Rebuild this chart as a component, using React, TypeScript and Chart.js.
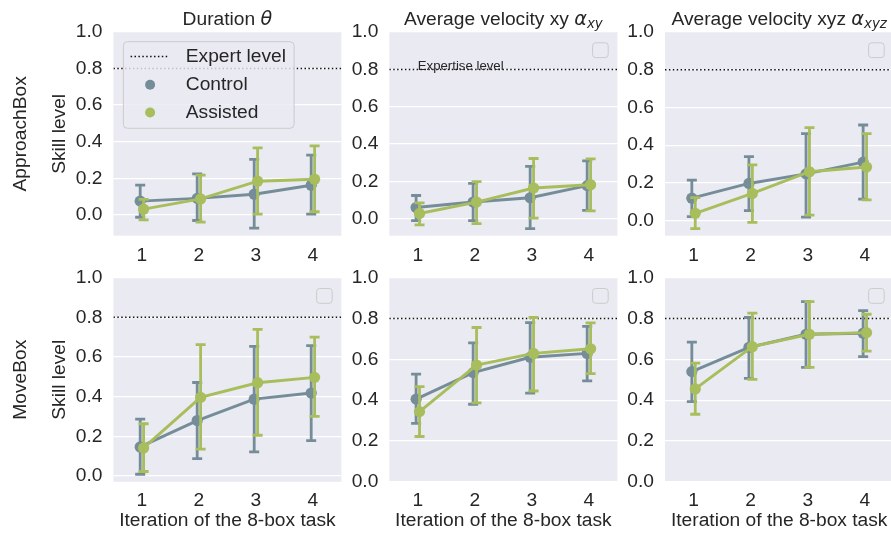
import React, { useEffect, useRef } from 'react';
import { Chart, registerables } from 'chart.js';

Chart.register(...registerables);

// ---------- data ----------
const categories = ['1', '2', '3', '4'];
const yTickValues = [0, 0.2, 0.4, 0.6, 0.8, 1.0];
const expertLevel = 0.8;
const seriesNames = ['Control', 'Assisted'];
const columnTitles = ['Duration', 'Average velocity xy', 'Average velocity xyz'];
const columnSymbols = ['θ', 'α', 'α'];
const columnSubscripts = ['', 'xy', 'xyz'];
const rowLabels = ['ApproachBox', 'MoveBox'];
const yLabel = 'Skill level';
const xLabel = 'Iteration of the 8-box task';
const expertLegendLabel = 'Expert level';
const expertiseAnnotation = 'Expertise level';

// ApproachBox - Duration
const apDurControl = [0.075, 0.09, 0.113, 0.162];
const apDurControlLow = [-0.013, -0.031, -0.073, 0.004];
const apDurControlHigh = [0.163, 0.224, 0.303, 0.327];
const apDurAssisted = [0.031, 0.087, 0.184, 0.195];
const apDurAssistedLow = [-0.027, -0.04, 0.004, 0.017];
const apDurAssistedHigh = [0.085, 0.217, 0.366, 0.377];

// ApproachBox - Average velocity xy
const apXyControl = [0.061, 0.09, 0.113, 0.178];
const apXyControlLow = [-0.009, -0.009, -0.052, 0.045];
const apXyControlHigh = [0.125, 0.19, 0.281, 0.31];
const apXyAssisted = [0.029, 0.09, 0.165, 0.183];
const apXyAssistedLow = [-0.032, -0.025, 0.004, 0.043];
const apXyAssistedHigh = [0.086, 0.199, 0.323, 0.321];

// ApproachBox - Average velocity xyz
const apXyzControl = [0.119, 0.197, 0.248, 0.31];
const apXyzControlLow = [0.021, 0.053, 0.018, 0.114];
const apXyzControlHigh = [0.215, 0.339, 0.461, 0.507];
const apXyzAssisted = [0.039, 0.144, 0.259, 0.284];
const apXyzAssistedLow = [-0.043, -0.009, 0.029, 0.11];
const apXyzAssistedHigh = [0.122, 0.296, 0.493, 0.461];

// MoveBox - Duration
const mvDurControl = [0.146, 0.279, 0.387, 0.418];
const mvDurControlLow = [0.008, 0.087, 0.121, 0.178];
const mvDurControlHigh = [0.286, 0.471, 0.653, 0.657];
const mvDurAssisted = [0.141, 0.396, 0.47, 0.497];
const mvDurAssistedLow = [0.022, 0.135, 0.205, 0.3];
const mvDurAssistedHigh = [0.263, 0.662, 0.739, 0.7];

// MoveBox - Average velocity xy
const mvXyControl = [0.405, 0.535, 0.61, 0.629];
const mvXyControlLow = [0.286, 0.38, 0.434, 0.494];
const mvXyControlHigh = [0.528, 0.681, 0.78, 0.762];
const mvXyAssisted = [0.344, 0.572, 0.629, 0.652];
const mvXyAssistedLow = [0.222, 0.387, 0.445, 0.53];
const mvXyAssistedHigh = [0.466, 0.756, 0.805, 0.779];

// MoveBox - Average velocity xyz
const mvXyzControl = [0.54, 0.659, 0.723, 0.728];
const mvXyzControlLow = [0.393, 0.507, 0.561, 0.613];
const mvXyzControlHigh = [0.684, 0.805, 0.883, 0.839];
const mvXyzAssisted = [0.455, 0.662, 0.723, 0.731];
const mvXyzAssistedLow = [0.331, 0.502, 0.561, 0.64];
const mvXyzAssistedHigh = [0.581, 0.826, 0.883, 0.821];

// y-axis lower limits per panel (upper is 1.0)
const yMinByPanel = [[-0.114, -0.09, -0.08], [-0.03, 0, 0]];

// ---------- styles ----------
const CONTROL = '#758d99';
const ASSISTED = '#a8bd5c';
const BG = '#eaeaf2';
const TEXT = '#262626';
const FAMILY = '"Liberation Sans", Arial, Helvetica, sans-serif';
const MATH = '"DejaVu Sans", sans-serif';
const FS = 19.2;

type Series = { mean: number[]; low: number[]; high: number[] };
const panelsData: { control: Series; assisted: Series }[][] = [
  [
    { control: { mean: apDurControl, low: apDurControlLow, high: apDurControlHigh }, assisted: { mean: apDurAssisted, low: apDurAssistedLow, high: apDurAssistedHigh } },
    { control: { mean: apXyControl, low: apXyControlLow, high: apXyControlHigh }, assisted: { mean: apXyAssisted, low: apXyAssistedLow, high: apXyAssistedHigh } },
    { control: { mean: apXyzControl, low: apXyzControlLow, high: apXyzControlHigh }, assisted: { mean: apXyzAssisted, low: apXyzAssistedLow, high: apXyzAssistedHigh } },
  ],
  [
    { control: { mean: mvDurControl, low: mvDurControlLow, high: mvDurControlHigh }, assisted: { mean: mvDurAssisted, low: mvDurAssistedLow, high: mvDurAssistedHigh } },
    { control: { mean: mvXyControl, low: mvXyControlLow, high: mvXyControlHigh }, assisted: { mean: mvXyAssisted, low: mvXyAssistedLow, high: mvXyAssistedHigh } },
    { control: { mean: mvXyzControl, low: mvXyzControlLow, high: mvXyzControlHigh }, assisted: { mean: mvXyzAssisted, low: mvXyzAssistedLow, high: mvXyzAssistedHigh } },
  ],
];

// ---------- layout (page px) ----------
const colLayout = [
  { canvasLeft: 0, canvasWidth: 347, plotLeft: 113.4, plotRight: 342 },
  { canvasLeft: 340, canvasWidth: 283, plotLeft: 389.3, plotRight: 617.8 },
  { canvasLeft: 615, canvasWidth: 284, plotLeft: 665, plotRight: 893.6 },
];
const rowLayout = [
  { canvasTop: 0, canvasHeight: 266, plotTop: 32, plotBottom: 235.7, tickPad: 8.3 },
  { canvasTop: 250, canvasHeight: 287, plotTop: 277.7, plotBottom: 481.8, tickPad: 7 },
];

const DODGE = 0.03;

function drawRich(ctx: CanvasRenderingContext2D, parts: { text: string; font: string; dy?: number }[], cx: number, baseline: number) {
  const widths = parts.map((p) => {
    ctx.font = p.font;
    return ctx.measureText(p.text).width;
  });
  const total = widths.reduce((a, b) => a + b, 0);
  let x = cx - total / 2;
  ctx.textAlign = 'left';
  ctx.textBaseline = 'alphabetic';
  parts.forEach((p, i) => {
    ctx.font = p.font;
    ctx.fillText(p.text, x, baseline + (p.dy || 0));
    x += widths[i];
  });
}

function roundRect(ctx: CanvasRenderingContext2D, x: number, y: number, w: number, h: number, r: number) {
  ctx.beginPath();
  ctx.moveTo(x + r, y);
  ctx.lineTo(x + w - r, y);
  ctx.quadraticCurveTo(x + w, y, x + w, y + r);
  ctx.lineTo(x + w, y + h - r);
  ctx.quadraticCurveTo(x + w, y + h, x + w - r, y + h);
  ctx.lineTo(x + r, y + h);
  ctx.quadraticCurveTo(x, y + h, x, y + h - r);
  ctx.lineTo(x, y + r);
  ctx.quadraticCurveTo(x, y, x + r, y);
  ctx.closePath();
}

function makePlugin(row: number, col: number) {
  return {
    id: 'panelDecor' + row + col,
    beforeDraw(chart: any) {
      const { ctx, chartArea: a } = chart;
      ctx.save();
      ctx.fillStyle = BG;
      ctx.fillRect(a.left, a.top, a.right - a.left, a.bottom - a.top);
      ctx.restore();
    },
    beforeDatasetDraw(chart: any, args: any) {
      const ds = chart.data.datasets[args.index];
      if (!ds.errLow) return;
      const { ctx } = chart;
      const xs = chart.scales.x;
      const ys = chart.scales.y;
      ctx.save();
      ctx.strokeStyle = ds.borderColor;
      ctx.lineWidth = 2.8;
      ctx.lineCap = 'square';
      const cap = 3.6;
      ds.data.forEach((p: any, i: number) => {
        const x = xs.getPixelForValue(p.x);
        const y1 = ys.getPixelForValue(ds.errLow[i]);
        const y2 = ys.getPixelForValue(ds.errHigh[i]);
        ctx.beginPath();
        ctx.moveTo(x, y1);
        ctx.lineTo(x, y2);
        ctx.moveTo(x - cap, y1);
        ctx.lineTo(x + cap, y1);
        ctx.moveTo(x - cap, y2);
        ctx.lineTo(x + cap, y2);
        ctx.stroke();
      });
      ctx.restore();
    },
    afterDraw(chart: any) {
      const { ctx, chartArea: a } = chart;
      const ys = chart.scales.y;
      const xs = chart.scales.x;
      const cx = (a.left + a.right) / 2;
      const cy = (a.top + a.bottom) / 2;
      ctx.save();
      ctx.fillStyle = TEXT;
      // column titles (top row)
      if (row === 0) {
        const parts: { text: string; font: string; dy?: number }[] = [
          { text: columnTitles[col] + ' ', font: `${FS}px ${FAMILY}` },
          { text: columnSymbols[col], font: `italic ${FS}px ${MATH}` },
        ];
        if (columnSubscripts[col]) parts.push({ text: columnSubscripts[col], font: `italic 13.4px ${MATH}`, dy: 3 });
        drawRich(ctx, parts, cx, a.top - 7);
      }
      // y label + row label (first column)
      if (col === 0) {
        ctx.font = `${FS}px ${FAMILY}`;
        ctx.textAlign = 'center';
        ctx.textBaseline = 'middle';
        ctx.save();
        ctx.translate(a.left - 53.4, cy);
        ctx.rotate(-Math.PI / 2);
        ctx.fillText(yLabel, 0, 0);
        ctx.restore();
        ctx.save();
        ctx.translate(a.left - 92.4, cy);
        ctx.rotate(-Math.PI / 2);
        ctx.fillText(rowLabels[row], 0, 0);
        ctx.restore();
      }
      // x label (bottom row)
      if (row === 1) {
        ctx.font = `${FS}px ${FAMILY}`;
        ctx.textAlign = 'center';
        ctx.textBaseline = 'alphabetic';
        ctx.fillText(xLabel, cx, a.bottom + 43.7);
      }
      // annotation
      if (row === 0 && col === 1) {
        ctx.font = `13.2px ${FAMILY}`;
        ctx.textAlign = 'left';
        ctx.textBaseline = 'alphabetic';
        ctx.fillText(expertiseAnnotation, xs.getPixelForValue(0), ys.getPixelForValue(expertLevel) + 0.5);
      }
      // legends
      if (row === 0 && col === 0) {
        const lx = a.left + 10;
        const ly = a.top + 9.7;
        roundRect(ctx, lx, ly, 170.7, 86.6, 4);
        ctx.fillStyle = 'rgba(234,234,242,0.8)';
        ctx.fill();
        ctx.strokeStyle = '#cccccc';
        ctx.lineWidth = 1;
        ctx.stroke();
        const rows = [ly + 14.8, ly + 43, ly + 70.8];
        // expert line sample
        ctx.save();
        ctx.strokeStyle = '#111';
        ctx.lineWidth = 1.5;
        ctx.setLineDash([1.5, 2.4]);
        ctx.beginPath();
        ctx.moveTo(lx + 7.2, rows[0]);
        ctx.lineTo(lx + 44.2, rows[0]);
        ctx.stroke();
        ctx.restore();
        const colors = [CONTROL, ASSISTED];
        [1, 2].forEach((k) => {
          ctx.fillStyle = colors[k - 1];
          ctx.beginPath();
          ctx.arc(lx + 26.7, rows[k], 5, 0, Math.PI * 2);
          ctx.fill();
        });
        ctx.fillStyle = TEXT;
        ctx.font = `${FS}px ${FAMILY}`;
        ctx.textAlign = 'left';
        ctx.textBaseline = 'middle';
        const labels = [expertLegendLabel, seriesNames[0], seriesNames[1]];
        labels.forEach((t, k) => ctx.fillText(t, lx + 62.4, rows[k]));
      } else {
        roundRect(ctx, a.right - 24.8, a.top + 10.8, 15.6, 14.8, 3);
        ctx.fillStyle = 'rgba(234,234,242,0.8)';
        ctx.fill();
        ctx.strokeStyle = '#cccccc';
        ctx.lineWidth = 1;
        ctx.stroke();
      }
      ctx.restore();
    },
  };
}

function buildConfig(row: number, col: number): any {
  const d = panelsData[row][col];
  const cl = colLayout[col];
  const rl = rowLayout[row];
  const yAxisWidth = cl.plotLeft - cl.canvasLeft;
  const padRight = cl.canvasLeft + cl.canvasWidth - cl.plotRight;
  const padTop = rl.plotTop - rl.canvasTop;
  const xAxisHeight = rl.canvasTop + rl.canvasHeight - rl.plotBottom;
  const pts = (vals: number[], off: number) => vals.map((v, i) => ({ x: i + off, y: v }));
  const font = { family: FAMILY, size: FS };
  return {
    type: 'line',
    data: {
      datasets: [
        {
          label: seriesNames[1],
          data: pts(d.assisted.mean, DODGE),
          errLow: d.assisted.low,
          errHigh: d.assisted.high,
          borderColor: ASSISTED,
          backgroundColor: ASSISTED,
          pointBackgroundColor: ASSISTED,
          pointBorderWidth: 0,
          pointRadius: 5.6,
          borderWidth: 2.9,
          tension: 0,
          clip: false,
          order: 0,
        },
        {
          label: seriesNames[0],
          data: pts(d.control.mean, -DODGE),
          errLow: d.control.low,
          errHigh: d.control.high,
          borderColor: CONTROL,
          backgroundColor: CONTROL,
          pointBackgroundColor: CONTROL,
          pointBorderWidth: 0,
          pointRadius: 5.6,
          borderWidth: 2.9,
          tension: 0,
          clip: false,
          order: 1,
        },
        {
          label: expertLegendLabel,
          data: [
            { x: -0.5, y: expertLevel },
            { x: categories.length - 0.5, y: expertLevel },
          ],
          borderColor: '#111',
          borderWidth: 1.5,
          borderDash: [1.5, 2.4],
          pointRadius: 0,
          tension: 0,
          order: 2,
        },
      ],
    },
    options: {
      responsive: false,
      maintainAspectRatio: false,
      animation: false,
      devicePixelRatio: 1,
      events: [],
      layout: { padding: { top: padTop, right: padRight, left: 0, bottom: 0 } },
      plugins: { legend: { display: false }, tooltip: { enabled: false }, title: { display: false } },
      scales: {
        x: {
          type: 'linear',
          min: -0.5,
          max: categories.length - 0.5,
          afterBuildTicks: (s: any) => {
            s.ticks = categories.map((_, i) => ({ value: i }));
          },
          afterFit: (s: any) => {
            s.height = xAxisHeight;
          },
          grid: { display: false, drawTicks: false },
          border: { display: false },
          ticks: {
            padding: rl.tickPad,
            font,
            color: TEXT,
            maxRotation: 0,
            autoSkip: false,
            callback: (v: any) => categories[Math.round(Number(v))],
          },
        },
        y: {
          type: 'linear',
          min: yMinByPanel[row][col],
          max: 1.0,
          afterBuildTicks: (s: any) => {
            s.ticks = yTickValues.map((v) => ({ value: v }));
          },
          afterFit: (s: any) => {
            s.width = yAxisWidth;
          },
          grid: { color: '#ffffff', lineWidth: 1.3, drawTicks: false },
          border: { display: false },
          ticks: {
            padding: 11,
            font,
            color: TEXT,
            autoSkip: false,
            callback: (v: any) => Number(v).toFixed(1),
          },
        },
      },
    },
    plugins: [makePlugin(row, col)],
  };
}

function Panel({ row, col }: { row: number; col: number }) {
  const ref = useRef<HTMLCanvasElement>(null);
  const cl = colLayout[col];
  const rl = rowLayout[row];
  useEffect(() => {
    const chart = new Chart(ref.current as HTMLCanvasElement, buildConfig(row, col));
    return () => chart.destroy();
  }, [row, col]);
  return (
    <canvas
      ref={ref}
      width={cl.canvasWidth}
      height={rl.canvasHeight}
      style={{
        position: 'absolute',
        left: cl.canvasLeft,
        top: rl.canvasTop,
        width: cl.canvasWidth,
        height: rl.canvasHeight,
      }}
    />
  );
}

export default function App() {
  const cells: { row: number; col: number }[] = [];
  for (let r = 0; r < 2; r++) for (let c = 0; c < 3; c++) cells.push({ row: r, col: c });
  return (
    <div
      style={{
        position: 'absolute',
        left: 0,
        top: 0,
        width: 891,
        height: 537,
        overflow: 'hidden',
        background: '#ffffff',
      }}
    >
      {cells.map((c) => (
        <Panel key={`${c.row}-${c.col}`} row={c.row} col={c.col} />
      ))}
    </div>
  );
}
